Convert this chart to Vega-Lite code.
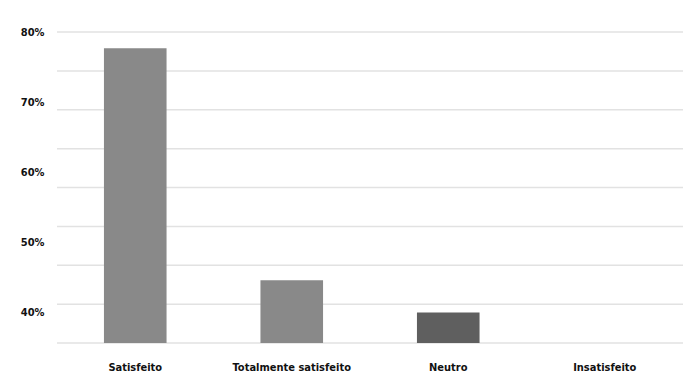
{
  "$schema": "https://vega.github.io/schema/vega-lite/v6.json",
  "autosize": {"type": "none"},
  "width": 626,
  "height": 311,
  "padding": {"left": 57, "top": 32, "right": 4, "bottom": 40},
  "background": "white",
  "config": {
    "view": {"stroke": null},
    "axis": {"labelFont": "DejaVu Sans Condensed", "labelFontWeight": "bold", "labelColor": "#111111"}
  },
  "layer": [
    {
      "data": {"values": [{"g": 0}, {"g": 1}, {"g": 2}, {"g": 3}, {"g": 4}, {"g": 5}, {"g": 6}, {"g": 7}, {"g": 8}]},
      "mark": {"type": "rule", "color": "#e2e2e2", "strokeWidth": 1.5},
      "encoding": {
        "y": {"field": "g", "type": "quantitative", "scale": {"domain": [0, 8], "nice": false, "zero": false}, "axis": null}
      }
    },
    {
      "data": {"values": [
        {"categoria": "Satisfeito", "pct": 77.7},
        {"categoria": "Totalmente satisfeito", "pct": 44.6},
        {"categoria": "Neutro", "pct": 40.0},
        {"categoria": "Insatisfeito", "pct": 35.65}
      ]},
      "mark": {"type": "bar", "clip": true},
      "encoding": {
        "x": {
          "field": "categoria", "type": "nominal", "sort": null,
          "scale": {"paddingInner": 0.6, "paddingOuter": 0.3},
          "axis": {"title": null, "labelAngle": 0, "ticks": false, "domain": false, "labelPadding": 18, "labelFontSize": 11}
        },
        "y": {
          "field": "pct", "type": "quantitative",
          "scale": {"domain": [35.65, 80], "nice": false, "zero": false},
          "axis": {"title": null, "values": [40, 50, 60, 70, 80], "labelExpr": "datum.value + '%'", "grid": false, "ticks": false, "domain": false, "labelPadding": 13, "labelFontSize": 11}
        },
        "color": {
          "field": "categoria", "type": "nominal", "legend": null,
          "scale": {"domain": ["Satisfeito", "Totalmente satisfeito", "Neutro", "Insatisfeito"], "range": ["#898989", "#898989", "#5f5f5f", "#898989"]}
        }
      }
    }
  ],
  "resolve": {"scale": {"y": "independent", "color": "independent"}}
}
